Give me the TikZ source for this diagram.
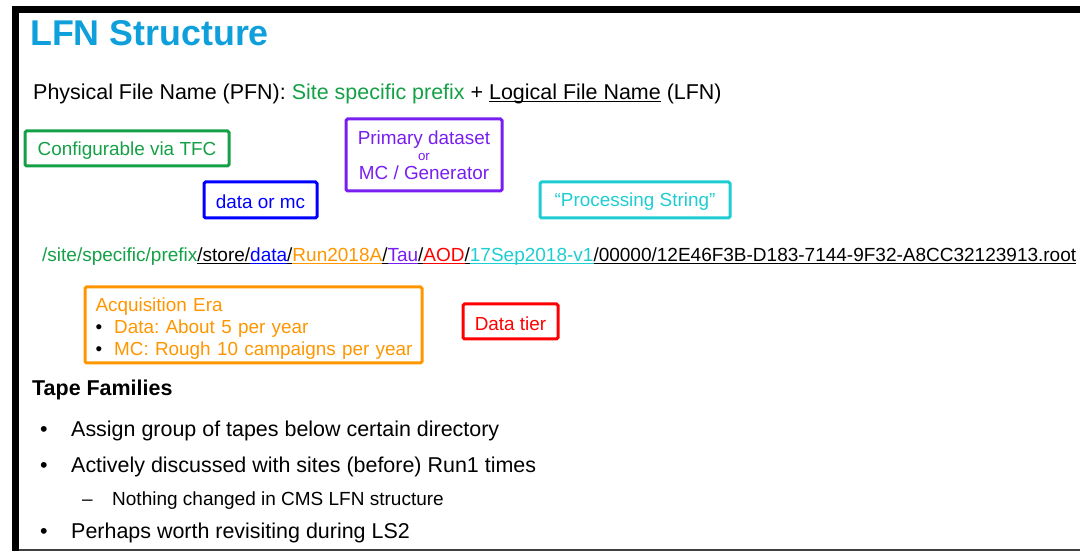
\documentclass[tikz,border=0pt]{standalone}
\usepackage{fontspec}
\setmainfont{Liberation Sans}
\usepackage{xcolor}
\usetikzlibrary{positioning}

\definecolor{titleblue}{RGB}{15,160,220}
\definecolor{sitegreen}{RGB}{20,160,70}
\definecolor{tierblue}{RGB}{0,0,255}
\definecolor{pdpurple}{RGB}{120,30,240}
\definecolor{eraorange}{RGB}{255,150,0}
\definecolor{tierred}{RGB}{255,0,0}
\definecolor{proccyan}{RGB}{30,205,210}

% underlined piece of the LFN in its own colour
\newcommand{\ul}[1]{\underline{\smash{#1}}}
\newcommand{\ulc}[2]{\textcolor{#1}{\ul{#2}}}
\newcommand{\era}{\hspace*{5pt}}
\frenchspacing

\begin{document}
\begin{tikzpicture}[
  x=1pt, y=-1pt,
  tag/.style={draw, line width=3pt, rounded corners=1.5pt, align=center,
    font=\fontsize{18.9}{21}\selectfont, inner sep=0pt},
  txt/.style={anchor=base west, inner sep=0pt, font=\fontsize{21.45}{25}\selectfont},
  small/.style={anchor=base west, inner sep=0pt, font=\fontsize{19}{21}\selectfont}
]
\useasboundingbox (0,0) rectangle (1080,553);

% slide frame
\fill[black] (12,6) rectangle (1080,13);
\fill[black] (12,6) rectangle (19,551);
\draw[black!75, line width=2pt] (19,550) -- (1080,550);

% heading and PFN line
\node[anchor=base west, inner sep=0pt, text=titleblue,
  font=\fontsize{35.8}{40}\selectfont\bfseries] (title) at (30,46) {LFN Structure};
\node[txt] (pfn) at (33,100) {Physical File Name (PFN): \textcolor{sitegreen}{Site specific prefix}
  + \ul{Logical File Name} (LFN)};

% labels above the LFN
\node[tag, draw=sitegreen, text=sitegreen, minimum width=204, minimum height=35]
  (tfc) at (127,148.5) {\rule{0pt}{17.7pt}Configurable via TFC};
\node[tag, draw=tierblue, text=tierblue, minimum width=113, minimum height=36]
  (kind) at (260.5,200) {\rule{0pt}{17.7pt}data or mc};
\node[tag, draw=pdpurple, text=pdpurple, minimum width=156, minimum height=72]
  (pd) at (424,155) {Primary dataset\\[-5pt]{\fontsize{13.3}{14}\selectfont or}\\[-2pt]MC / Generator};
\node[tag, draw=proccyan, text=proccyan, minimum width=190, minimum height=36]
  (procstr) at (635,200) {\rule{0pt}{17.7pt}``Processing String''};

% the LFN itself
\node[small] (lfn) at (42,262) {\textcolor{sitegreen}{/site/specific/prefix}\ul{/store/}\ulc{tierblue}{data}\ul{/}\ulc{eraorange}{Run2018A}\ul{/}\ulc{pdpurple}{Tau}\ul{/}\ulc{tierred}{AOD}\ul{/}\ulc{proccyan}{17Sep2018-v1}\ul{/00000/12E46F3B-D183-7144-9F32-A8CC32123913.root}};

% labels below the LFN
\node[tag, draw=eraorange, text=eraorange, minimum width=337, minimum height=76,
  align=left, text width=326, inner xsep=5.5pt, font=\fontsize{18.9}{22}\selectfont]
  (era) at (253.5,325) {\era\rule{0pt}{21pt}Acquisition Era\\
  \era\textcolor{black}{\textbullet}\hspace{12pt}Data: About 5 per year\\
  \era\textcolor{black}{\textbullet}\hspace{12pt}MC: Rough 10 campaigns per year};
\node[tag, draw=tierred, text=tierred, minimum width=95, minimum height=35]
  (tier) at (510.5,321.5) {\rule{0pt}{17.7pt}Data tier};

% tape families
\node[txt, font=\fontsize{21.45}{25}\selectfont\bfseries] (tf) at (32,396) {Tape Families};
\node[txt] (b1) at (40,437) {\textbullet};
\node[txt] (t1) at (71,437) {Assign group of tapes below certain directory};
\node[txt] (b2) at (40,473) {\textbullet};
\node[txt] (t2) at (71,473) {Actively discussed with sites (before) Run1 times};
\node[small] (d1) at (82,505) {--};
\node[small] (t3) at (112,505) {Nothing changed in CMS LFN structure};
\node[txt] (b3) at (40,538) {\textbullet};
\node[txt] (t4) at (71,538) {Perhaps worth revisiting during LS2};
\end{tikzpicture}
\end{document}
